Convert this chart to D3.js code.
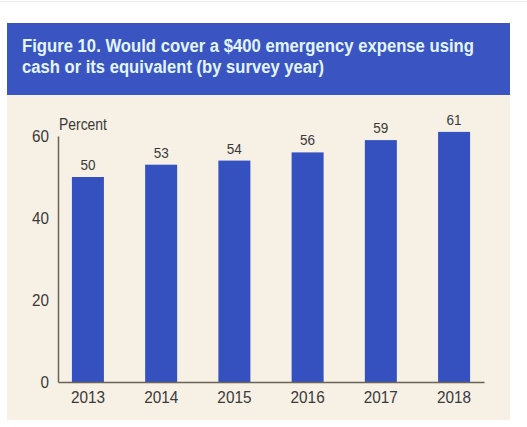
<!DOCTYPE html>
<html><head><meta charset="utf-8">
<script src="https://cdn.jsdelivr.net/npm/d3@7"></script>
<style>
html,body{margin:0;padding:0;background:#fff;}
svg{display:block;}
text{font-family:"Liberation Sans",Arial,sans-serif;}
</style></head>
<body>
<svg id="c" width="527" height="427"></svg>
<script>
const years = ["2013","2014","2015","2016","2017","2018"];
const values = [50,53,54,56,59,61];
const yTicks = [0,20,40,60];
const titleLines = ["Figure 10. Would cover a $400 emergency expense using","cash or its equivalent (by survey year)"];
const titleWidths = [452, 302];
const yLabel = "Percent";

function condense(sel, k){
  sel.each(function(){
    const w = this.getComputedTextLength();
    d3.select(this).attr("textLength", w*k).attr("lengthAdjust","spacingAndGlyphs");
  });
}

const svg = d3.select("#c");
svg.append("line").attr("x1",0).attr("x2",527).attr("y1",1.5).attr("y2",1.5).attr("stroke","#ececec");
svg.append("rect").attr("x",7).attr("y",23).attr("width",503).attr("height",72).attr("fill","#3a55c2");
svg.append("rect").attr("x",7).attr("y",95).attr("width",503).attr("height",325).attr("fill","#f6f0e5");
svg.selectAll("text.title").data(titleLines).join("text").attr("class","title")
  .attr("x",22).attr("y",(d,i)=>52+i*21).attr("fill","#e2f5fc")
  .attr("font-size",18).attr("font-weight","bold")
  .attr("textLength",(d,i)=>titleWidths[i]).attr("lengthAdjust","spacingAndGlyphs").text(d=>d);

const x = d3.scaleBand().domain(years).range([58,484]).paddingInner(0.563).paddingOuter(0.19);
const y = d3.scaleLinear().domain([0,60]).range([382,136]);

svg.selectAll("rect.bar").data(values).join("rect").attr("class","bar")
  .attr("x",(d,i)=>x(years[i])).attr("width",x.bandwidth())
  .attr("y",d=>y(d)).attr("height",d=>y(0)-y(d)).attr("fill","#3551c0");

svg.selectAll("text.val").data(values).join("text").attr("class","val")
  .attr("x",(d,i)=>x(years[i])+x.bandwidth()/2).attr("y",d=>y(d)-7)
  .attr("text-anchor","middle").attr("font-size",15).attr("fill","#3a3a3a").text(d=>d)
  .call(condense,0.9);

const yAxis = svg.append("g").attr("transform","translate(58,0)")
  .call(d3.axisLeft(y).tickValues(yTicks).tickSize(0).tickPadding(9));
yAxis.select(".domain").attr("stroke","#6b6457").attr("stroke-width",1.5);
yAxis.selectAll("text").attr("font-size",16).attr("fill","#3a3a3a").attr("font-family",null).call(condense,0.95);

const xAxis = svg.append("g").attr("transform","translate(0,382)")
  .call(d3.axisBottom(x).tickSize(0).tickPadding(9));
xAxis.select(".domain").attr("stroke","#6b6457").attr("stroke-width",1.5);
xAxis.selectAll("text").attr("font-size",17).attr("fill","#3a3a3a").attr("font-family",null).call(condense,0.9);

svg.append("text").attr("x",59).attr("y",130).attr("font-size",16).attr("fill","#3a3a3a").text(yLabel).call(condense,0.87);
</script>
</body></html>
